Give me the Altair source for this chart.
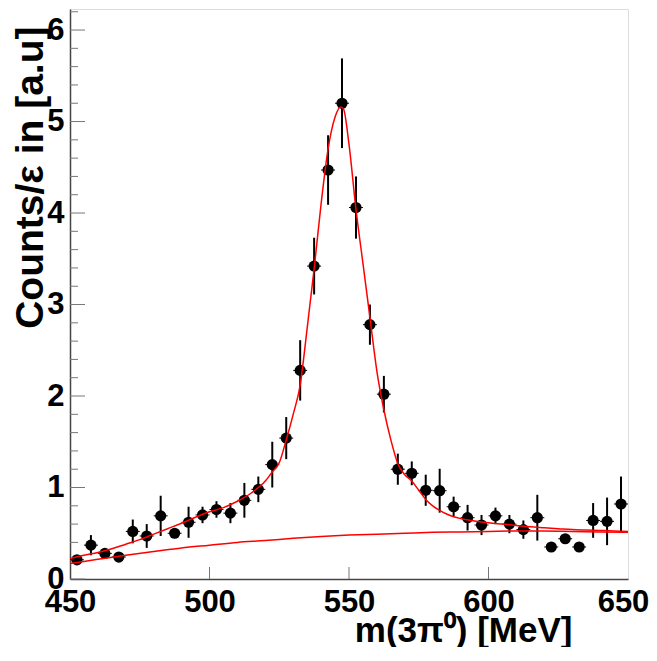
import altair as alt
import pandas as pd

# ---- data ----
mass = [452.5, 457.5, 462.5, 467.5, 472.5, 477.5, 482.5, 487.5, 492.5, 497.5,
        502.5, 507.5, 512.5, 517.5, 522.5, 527.5, 532.5, 537.5, 542.5, 547.5,
        552.5, 557.5, 562.5, 567.5, 572.5, 577.5, 582.5, 587.5, 592.5, 597.5,
        602.5, 607.5, 612.5, 617.5, 622.5, 627.5, 632.5, 637.5, 642.5, 647.5]
counts = [0.21, 0.37, 0.28, 0.24, 0.52, 0.47, 0.69, 0.50, 0.62, 0.70,
          0.76, 0.72, 0.86, 0.98, 1.25, 1.54, 2.28, 3.42, 4.47, 5.20,
          4.06, 2.78, 2.02, 1.20, 1.155, 0.97, 0.965, 0.79, 0.67, 0.59,
          0.69, 0.60, 0.54, 0.67, 0.35, 0.44, 0.35, 0.64, 0.63, 0.82]
errors = [0.04, 0.11, 0.05, 0.05, 0.13, 0.13, 0.22, 0.05, 0.17, 0.09,
          0.09, 0.11, 0.19, 0.14, 0.25, 0.23, 0.33, 0.31, 0.38, 0.49,
          0.34, 0.22, 0.20, 0.17, 0.13, 0.17, 0.24, 0.11, 0.14, 0.11,
          0.09, 0.10, 0.10, 0.25, 0.04, 0.04, 0.04, 0.19, 0.26, 0.30]
bin_half = 2.5

fit_m = [450, 455, 460, 465, 470, 475, 480, 485, 490, 495, 500, 505, 510, 515,
         520, 522.5, 525, 527.5, 530, 532.5, 535, 537.5, 540, 542.5, 545, 547,
         548, 550, 552.5, 555, 557.5, 560, 562.5, 565, 567.5, 570, 572.5, 575,
         577.5, 580, 582.5, 585, 587.5, 590, 595, 600, 605, 610, 615, 620, 625,
         630, 635, 640, 645, 650]
fit_v = [0.225, 0.26, 0.29, 0.33, 0.38, 0.43, 0.49, 0.55, 0.61, 0.675, 0.735, 0.78,
         0.85, 0.94, 1.07, 1.17, 1.27, 1.52, 1.80, 2.12, 2.74, 3.39, 4.10, 4.70,
         5.05, 5.16, 5.14, 4.75, 4.04, 3.45, 2.86, 2.27, 1.85, 1.52, 1.26, 1.14,
         1.07, 0.97, 0.87, 0.80, 0.75, 0.71, 0.68, 0.66, 0.635, 0.615, 0.60,
         0.585, 0.57, 0.56, 0.55, 0.54, 0.535, 0.53, 0.525, 0.52]

bg_m = [450, 460, 470, 480, 490, 500, 510, 520, 530, 540, 550, 560, 570, 580,
        590, 600, 610, 620, 630, 640, 650]
bg_v = [0.17, 0.215, 0.26, 0.30, 0.34, 0.37, 0.40, 0.42, 0.445, 0.465, 0.48,
        0.49, 0.50, 0.51, 0.515, 0.52, 0.525, 0.525, 0.52, 0.515, 0.51]

y_major = [0, 1, 2, 3, 4, 5, 6]
y_minor = [0.2, 0.4, 0.6, 0.8, 1.2, 1.4, 1.6, 1.8, 2.2, 2.4, 2.6, 2.8,
           3.2, 3.4, 3.6, 3.8, 4.2, 4.4, 4.6, 4.8, 5.2, 5.4, 5.6, 5.8, 6.2]
x_labels = [450, 500, 550, 600, 650]
x_major = [500, 550, 600]

x_title = "m(3π⁰) [MeV]"
y_title = "Counts/ε in [a.u]"

W, H = 558, 570
FONT = "Liberation Sans"

pts = pd.DataFrame({"m": mass, "v": counts, "e": errors})
pts["lo"] = pts["v"] - pts["e"]
pts["hi"] = pts["v"] + pts["e"]
pts["mlo"] = pts["m"] - bin_half
pts["mhi"] = pts["m"] + bin_half

fit = pd.DataFrame({"m": fit_m, "v": fit_v})
bg = pd.DataFrame({"m": bg_m, "v": bg_v})

xs = alt.Scale(domain=[450, 650], nice=False, zero=False)
ys = alt.Scale(domain=[0, 6.23], nice=False)

xax = alt.Axis(values=x_labels, format="d", tickSize=0,
               labelFontSize=31, labelFont=FONT, labelFontWeight="bold",
               labelColor="black", labelPadding=8, labelFlush=False,
               labelOffset={"condition": {"test": "datum.value == 650", "value": -5},
                            "value": 0},
               domainColor="#444", domainWidth=1.5, grid=False,
               title=x_title, titleFont=FONT, titleFontSize=35,
               titleFontWeight="bold", titleColor="black", titleAlign="right",
               titleAnchor="start", titleX=502, titleY=62,
               titleBaseline="alphabetic")
yax = alt.Axis(values=y_major, format="d", tickSize=0,
               labelFontSize=31, labelFont=FONT, labelFontWeight="bold",
               labelColor="black", labelPadding=6, labelFlush=False,
               labelOverlap=False,
               domainColor="#444", domainWidth=1.5, grid=False,
               title=y_title, titleFont=FONT, titleFontSize=39,
               titleFontWeight="bold", titleColor="black", titleAlign="right",
               titleAngle=-90, titleX=-28, titleY=17,
               titleBaseline="alphabetic")

base_x = alt.X("m:Q", scale=xs, axis=xax)
base_y = alt.Y("v:Q", scale=ys, axis=yax)

xerr = alt.Chart(pts).mark_rule(color="black", strokeWidth=1).encode(
    x=alt.X("mlo:Q", scale=xs, axis=xax), x2="mhi:Q", y=base_y)
yerr = alt.Chart(pts).mark_rule(color="black", strokeWidth=2).encode(
    x=base_x, y=alt.Y("lo:Q", scale=ys, axis=yax), y2="hi:Q")
dots = alt.Chart(pts).mark_point(filled=True, shape="circle", size=125,
                                 color="black", opacity=1).encode(x=base_x, y=base_y)
bg_line = alt.Chart(bg).mark_line(color="#ff0000", strokeWidth=1.5,
                                  interpolate="monotone").encode(x=base_x, y=base_y)
fit_line = alt.Chart(fit).mark_line(color="#ff0000", strokeWidth=1.5,
                                    interpolate="monotone").encode(x=base_x, y=base_y)

ymaj = alt.Chart(pd.DataFrame({"v": y_major})).mark_rule(color="#777", strokeWidth=1).encode(
    y=base_y, x=alt.value(0), x2=alt.value(15))
ymin = alt.Chart(pd.DataFrame({"v": y_minor})).mark_rule(color="#777", strokeWidth=1).encode(
    y=base_y, x=alt.value(0), x2=alt.value(8))
xmaj = alt.Chart(pd.DataFrame({"m": x_major})).mark_rule(color="#777", strokeWidth=1).encode(
    x=base_x, y=alt.value(H), y2=alt.value(H - 12))

chart = alt.layer(ymaj, ymin, xmaj, xerr, yerr, dots, bg_line, fit_line).properties(
    width=W, height=H,
    autosize=alt.AutoSizeParams(type="none"),
    padding={"left": 62, "top": 1, "right": 21, "bottom": 68},
).configure_view(stroke="#444", strokeWidth=1.5).configure(background="white")

chart.save("out.html", embed_options={"renderer": "svg", "actions": False})
